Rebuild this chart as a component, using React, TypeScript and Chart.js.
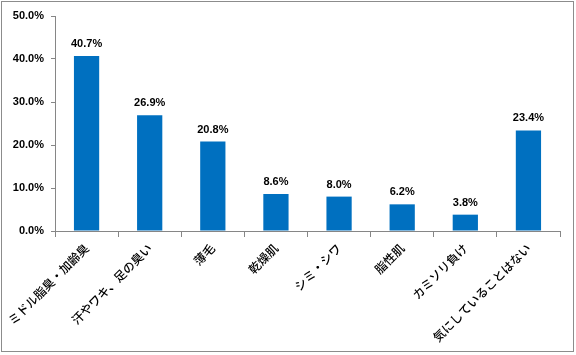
import React, { useEffect, useRef } from "react";
import { Chart, registerables } from "chart.js";

Chart.register(...registerables);

const categories = [
  "ミドル脂臭・加齢臭",
  "汗やワキ、足の臭い",
  "薄毛",
  "乾燥肌",
  "シミ・シワ",
  "脂性肌",
  "カミソリ負け",
  "気にしていることはない",
];
const values = [40.7, 26.9, 20.8, 8.6, 8.0, 6.2, 3.8, 23.4];
const yTicks = [0, 10, 20, 30, 40, 50];

const BAR_COLOR = "#0070C0";
const AXIS_COLOR = "#868686";

const valueLabels = {
  id: "valueLabels",
  afterDatasetsDraw(chart: any) {
    const ctx = chart.ctx;
    const meta = chart.getDatasetMeta(0);
    ctx.save();
    ctx.font = "bold 11px 'Liberation Sans', Arial, sans-serif";
    ctx.fillStyle = "#000";
    ctx.textAlign = "center";
    ctx.textBaseline = "alphabetic";
    meta.data.forEach((el: any, i: number) => {
      const v = chart.data.datasets[0].data[i] as number;
      ctx.fillText(v.toFixed(1) + "%", el.x, el.y - 9);
    });
    ctx.restore();
  },
};

const frame = {
  id: "frame",
  afterDraw(chart: any) {
    const ctx = chart.ctx;
    ctx.save();
    ctx.strokeStyle = "#8c8c8c";
    ctx.lineWidth = 1;
    ctx.strokeRect(1.5, 1.5, 572, 350);
    ctx.restore();
  },
};

export default function App() {
  const ref = useRef<HTMLCanvasElement | null>(null);
  useEffect(() => {
    document.body.style.margin = "0";
    const canvas = ref.current!;
    const chart = new Chart(canvas, {
      type: "bar",
      data: {
        labels: categories,
        datasets: [
          {
            data: values,
            backgroundColor: BAR_COLOR,
            barPercentage: 0.4,
            categoryPercentage: 1,
          },
        ],
      },
      options: {
        responsive: false,
        animation: false,
        layout: { padding: { top: 16, right: 16, left: 0, bottom: 0 } },
        plugins: { legend: { display: false }, tooltip: { enabled: false } },
        scales: {
          x: {
            afterFit(scale: any) {
              scale.height = 124;
            },
            grid: {
              offset: true,
              drawOnChartArea: false,
              tickLength: 6,
              color: AXIS_COLOR,
            },
            border: { color: AXIS_COLOR },
            ticks: {
              autoSkip: false,
              minRotation: 45,
              maxRotation: 45,
              padding: 4,
              color: "#000",
              font: { family: "'Noto Sans CJK JP'", size: 12, weight: "500" },
            },
          },
          y: {
            min: 0,
            max: 50,
            afterFit(scale: any) {
              scale.width = 55;
            },
            afterBuildTicks(scale: any) {
              scale.ticks = yTicks.map((v) => ({ value: v }));
            },
            grid: {
              drawOnChartArea: false,
              tickLength: 4,
              color: AXIS_COLOR,
            },
            border: { color: AXIS_COLOR },
            ticks: {
              padding: 7,
              color: "#000",
              font: { family: "'Liberation Sans', Arial, sans-serif", size: 11, weight: "bold" },
              callback: (v: any) => Number(v).toFixed(1) + "%",
            },
          },
        },
      },
      plugins: [valueLabels, frame],
    });
    return () => chart.destroy();
  }, []);
  return <canvas ref={ref} width={576} height={355} style={{ display: "block" }} />;
}
